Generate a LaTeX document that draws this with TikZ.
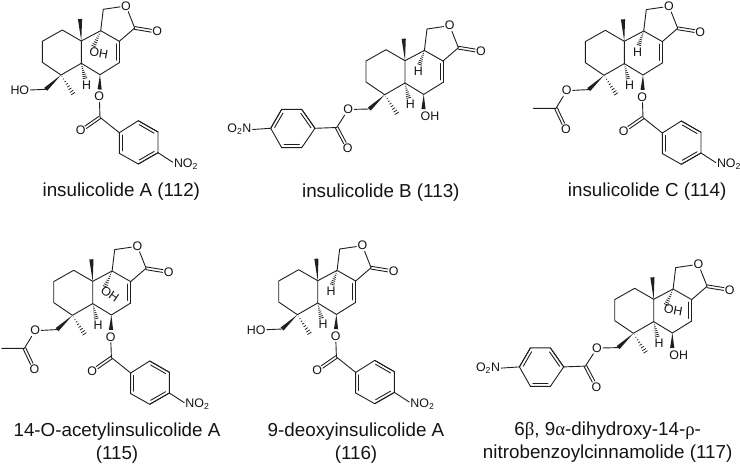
\documentclass[tikz,border=0pt]{standalone}
\usepackage{fontspec}
\setmainfont{Liberation Sans}
\newfontfamily\greekfont{Liberation Serif}
\usetikzlibrary{calc}

\tikzset{
	bond/.style={line width=0.9pt, color=black!88, line cap=round, line join=round},
	hashline/.style={line width=0.75pt, color=black!88},
	atomlabel/.style={inner sep=1pt, text=black!92, font=\fontsize{12.4}{13}\selectfont},
	caption/.style={align=center, text=black!92, font=\fontsize{18.8}{22.4}\selectfont}
}

\newcommand{\wedgebond}[2]{\fill[black!88] (#1) -- ($(#2)!2.1pt!90:(#1)$) -- ($(#2)!2.1pt!-90:(#1)$) -- cycle;}
\newcommand{\hashbond}[2]{\foreach \t in {.08,.21,.34,.47,.6,.73,.86,.98} {\draw[hashline] ($(#1)!\t!(#2)!\t*2.4pt!90:(#2)$) -- ($(#1)!\t!(#2)!\t*2.4pt!-90:(#2)$);}}
\newcommand{\dblbond}[2]{\draw[bond] (#1) -- (#2); \draw[bond] ($(#1)!.12!(#2)!3pt!90:(#2)$) -- ($(#2)!.12!(#1)!3pt!-90:(#1)$);}
\newcommand{\carbonyl}[2]{
	\draw[bond, shorten >=6pt] ($(#1)!1.4pt!90:(#2)$) -- ($(#2)!1.4pt!-90:(#1)$);
	\draw[bond, shorten >=6pt] ($(#1)!1.4pt!-90:(#2)$) -- ($(#2)!1.4pt!90:(#1)$);
}

% fused rings, lactone, angular methyl
\newcommand{\corerings}{
	\coordinate (c10) at (0,0);
	\coordinate (me10) at (-1.3,-22);
	\coordinate (c1) at (-19,-11);
	\coordinate (c2) at (-39,0.3);
	\coordinate (c3) at (-39,21.3);
	\coordinate (c4) at (-20.3,34);
	\coordinate (c5) at (0,22.3);
	\coordinate (c6) at (18.7,33.7);
	\coordinate (c7) at (38,21.7);
	\coordinate (c8) at (38,0.3);
	\coordinate (c9) at (19.4,-10.3);
	\coordinate (c11) at (22,-31.7);
	\coordinate (c12) at (53.4,-13);
	\coordinate (c14) at (-35.6,48.3);
	\coordinate (me4) at (-8,53);
	\coordinate (h5end) at (3.7,37.5);
	\node[atomlabel] (oring) at (44.7,-35) {O};
	\node[atomlabel] (olac) at (76,-9.3) {O};
	\node[atomlabel] (h5) at (5.4,44) {H};
	\draw[bond] (c10) -- (c1) -- (c2) -- (c3) -- (c4) -- (c5) -- (c10) -- (c9) -- (c8);
	\draw[bond] (c5) -- (c6) -- (c7);
	\dblbond{c7}{c8}
	\draw[bond] (c8) -- (c12) -- (oring) -- (c11) -- (c9);
	\carbonyl{c12}{olac}
	\wedgebond{c10}{me10}
	\wedgebond{c4}{c14}
	\hashbond{c4}{me4}
	\hashbond{c5}{h5end}
}
% benzoate hanging from C6
\newcommand{\lowerbenzoate}{
	\node[atomlabel] (oest) at (18,55.7) {O};
	\node[atomlabel] (ocarb) at (-0.6,89.7) {O};
	\node[atomlabel, anchor=west] (nitro) at (91.5,123.3) {NO\textsubscript{2}};
	\coordinate (cest) at (18.7,76.3);
	\coordinate (ar1) at (38,91.7);
	\coordinate (ar2) at (57,79.7);
	\coordinate (ar3) at (76.7,91);
	\coordinate (ar4) at (76.7,111.7);
	\coordinate (ar5) at (57,123);
	\coordinate (ar6) at (38,112.3);
	\coordinate (wedgeend) at (18.3,48.5);
	\wedgebond{c6}{wedgeend}
	\draw[bond] (oest) -- (cest) -- (ar1);
	\carbonyl{cest}{ocarb}
	\draw[bond] (ar1) -- (ar2) -- (ar3) -- (ar4) -- (ar5) -- (ar6) -- cycle;
	\dblbond{ar1}{ar6}
	\dblbond{ar3}{ar2}
	\dblbond{ar5}{ar4}
	\draw[bond] (ar4) -- ([yshift=2pt]nitro.west);
}
% benzoate on the C14 methylene, hydroxyl on C6
\newcommand{\leftbenzoate}{
	\node[atomlabel] (oest) at (-56.7,48.8) {O};
	\node[atomlabel] (ocarb) at (-57.3,87.6) {O};
	\node[atomlabel, anchor=east] (nitro) at (-152.5,68.8) {O\textsubscript{2}N};
	\node[atomlabel, anchor=west] (oh6) at (14.5,55.5) {OH};
	\coordinate (oh6end) at (18.5,48.5);
	\coordinate (cest) at (-68.3,66.8);
	\coordinate (ar1) at (-90,67.6);
	\coordinate (ar2) at (-103.3,48.6);
	\coordinate (ar3) at (-123.3,48.6);
	\coordinate (ar4) at (-134.3,67.6);
	\coordinate (ar5) at (-123.3,87);
	\coordinate (ar6) at (-103.3,87);
	\wedgebond{c6}{oh6end}
	\draw[bond] (c14) -- (oest) -- (cest) -- (ar1);
	\carbonyl{cest}{ocarb}
	\draw[bond] (ar1) -- (ar2) -- (ar3) -- (ar4) -- (ar5) -- (ar6) -- cycle;
	\dblbond{ar1}{ar2}
	\dblbond{ar3}{ar4}
	\dblbond{ar5}{ar6}
	\draw[bond] (ar4) -- (nitro.east);
}
\newcommand{\acetate}{
	\node[atomlabel] (oace) at (-57.6,49.4) {O};
	\node[atomlabel] (ocace) at (-58.3,88) {O};
	\coordinate (cace) at (-68.3,67);
	\coordinate (meace) at (-91,67);
	\draw[bond] (c14) -- (oace) -- (cace) -- (meace);
	\carbonyl{cace}{ocace}
}
\newcommand{\hydroxymethyl}{
	\node[atomlabel] (hoc) at (-61.5,49.5) {HO};
	\draw[bond] (c14) -- (hoc);
}
% substituent on the C9 face: rotated OH or plain H
\newcommand{\ninehydroxy}[3]{
	\node[atomlabel, rotate=#3] (oh9) at (#1,#2) {OH};
	\coordinate (oh9end) at (12.3,5.5);
	\hashbond{c9}{oh9end}
}
\newcommand{\ninehydrogen}{
	\node[atomlabel] (h9) at (13.3,11) {H};
	\coordinate (h9end) at (14.5,4);
	\hashbond{c9}{h9end}
}

\begin{document}
\begin{tikzpicture}[x=1pt, y=-1pt]
	\useasboundingbox (0,0) rectangle (740,466);

	\begin{scope}[shift={(81.3,41)}]
		\corerings
		\lowerbenzoate
		\hydroxymethyl
		\ninehydroxy{17.4}{12.3}{-10}
	\end{scope}

	\begin{scope}[shift={(405,60.7)}]
		\corerings
		\leftbenzoate
		\ninehydrogen
	\end{scope}

	\begin{scope}[shift={(624.3,41.3)}]
		\corerings
		\lowerbenzoate
		\acetate
		\ninehydrogen
	\end{scope}

	\begin{scope}[shift={(92.7,281.3)}]
		\corerings
		\lowerbenzoate
		\acetate
		\ninehydroxy{17.3}{12.7}{-35}
	\end{scope}

	\begin{scope}[shift={(317.7,280.7)}]
		\corerings
		\lowerbenzoate
		\hydroxymethyl
		\ninehydrogen
	\end{scope}

	\begin{scope}[shift={(653.7,299.3)}]
		\corerings
		\leftbenzoate
		\ninehydroxy{19.6}{10.7}{-10}
	\end{scope}

	\node[caption] (name112) at (121.3,192) {insulicolide A (112)};
	\node[caption] (name113) at (380.8,192.7) {insulicolide B (113)};
	\node[caption] (name114) at (647.2,192) {insulicolide C (114)};
	\node[caption] (name115) at (117,443) {14-O-acetylinsulicolide A\\(115)};
	\node[caption] (name116) at (356,443) {9-deoxyinsulicolide A\\(116)};
	\node[caption] (name117) at (607.7,442) {6{\greekfont β}, 9{\greekfont α}-dihydroxy-14-{\greekfont ρ}-\\nitrobenzoylcinnamolide (117)};
\end{tikzpicture}
\end{document}
